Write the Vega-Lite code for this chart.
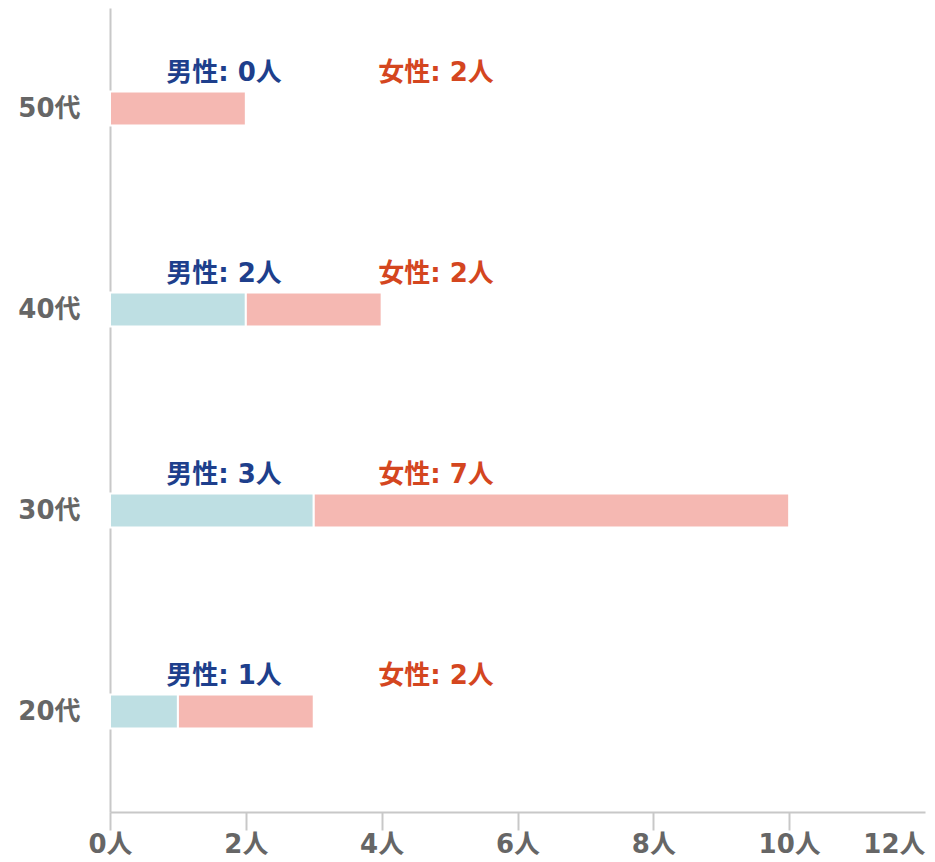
{
  "$schema": "https://vega.github.io/schema/vega-lite/v6.json",
  "autosize": "none",
  "width": 815,
  "height": 804,
  "padding": {"left": 110, "top": 8, "right": 10, "bottom": 50},
  "background": "white",
  "config": {"view": {"stroke": null}, "font": "DejaVu Sans, Noto Sans CJK JP"},
  "data": {"values": [
    {"age": "50代", "gender": "男性", "count": 0, "label": "男性: 0人"},
    {"age": "50代", "gender": "女性", "count": 2, "label": "女性: 2人"},
    {"age": "40代", "gender": "男性", "count": 2, "label": "男性: 2人"},
    {"age": "40代", "gender": "女性", "count": 2, "label": "女性: 2人"},
    {"age": "30代", "gender": "男性", "count": 3, "label": "男性: 3人"},
    {"age": "30代", "gender": "女性", "count": 7, "label": "女性: 7人"},
    {"age": "20代", "gender": "男性", "count": 1, "label": "男性: 1人"},
    {"age": "20代", "gender": "女性", "count": 2, "label": "女性: 2人"}
  ]},
  "encoding": {
    "y": {"field": "age", "type": "nominal", "sort": ["50代", "40代", "30代", "20代"],
      "scale": {"paddingInner": 0, "paddingOuter": 0},
      "axis": {"title": null, "ticks": false, "domainColor": "#c8c8c8", "domainWidth": 2,
        "labelFont": "DejaVu Sans, Noto Sans CJK JP", "labelFontWeight": "bold", "labelFontSize": 26,
        "labelColor": "#666666", "labelPadding": 30, "grid": false}}
  },
  "layer": [
    {
      "mark": {"type": "bar", "size": 34, "stroke": "white", "strokeWidth": 2},
      "encoding": {
        "x": {"field": "count", "type": "quantitative", "stack": "zero",
          "scale": {"domain": [0, 12], "nice": false},
          "axis": {"title": null, "grid": false, "values": [0, 2, 4, 6, 8, 10, 12],
            "labelExpr": "datum.value + '人'",
            "domainColor": "#c8c8c8", "domainWidth": 2,
            "tickColor": "#c8c8c8", "tickWidth": 2, "tickSize": 18,
            "tickOpacity": {"condition": {"test": "datum.value == 12", "value": 0}, "value": 1},
            "labelAlign": {"condition": {"test": "datum.value == 12", "value": "right"}, "value": "center"},
            "labelFont": "DejaVu Sans, Noto Sans CJK JP", "labelFontWeight": "bold", "labelFontSize": 26,
            "labelColor": "#666666", "labelPadding": 1}},
        "color": {"field": "gender", "type": "nominal",
          "scale": {"domain": ["男性", "女性"], "range": ["#bedfe3", "#f5b8b2"]}, "legend": null},
        "order": {"field": "gender", "sort": "descending"}
      }
    },
    {
      "transform": [{"filter": "datum.gender == '男性'"}],
      "mark": {"type": "text", "font": "DejaVu Sans, Noto Sans CJK JP", "fontWeight": "bold", "fontSize": 26,
        "color": "#1e3f8c", "align": "center", "baseline": "middle", "dy": -36},
      "encoding": {"x": {"datum": 1.68, "type": "quantitative"}, "text": {"field": "label"}}
    },
    {
      "transform": [{"filter": "datum.gender == '女性'"}],
      "mark": {"type": "text", "font": "DejaVu Sans, Noto Sans CJK JP", "fontWeight": "bold", "fontSize": 26,
        "color": "#d4461f", "align": "center", "baseline": "middle", "dy": -36},
      "encoding": {"x": {"datum": 4.8, "type": "quantitative"}, "text": {"field": "label"}}
    }
  ]
}
